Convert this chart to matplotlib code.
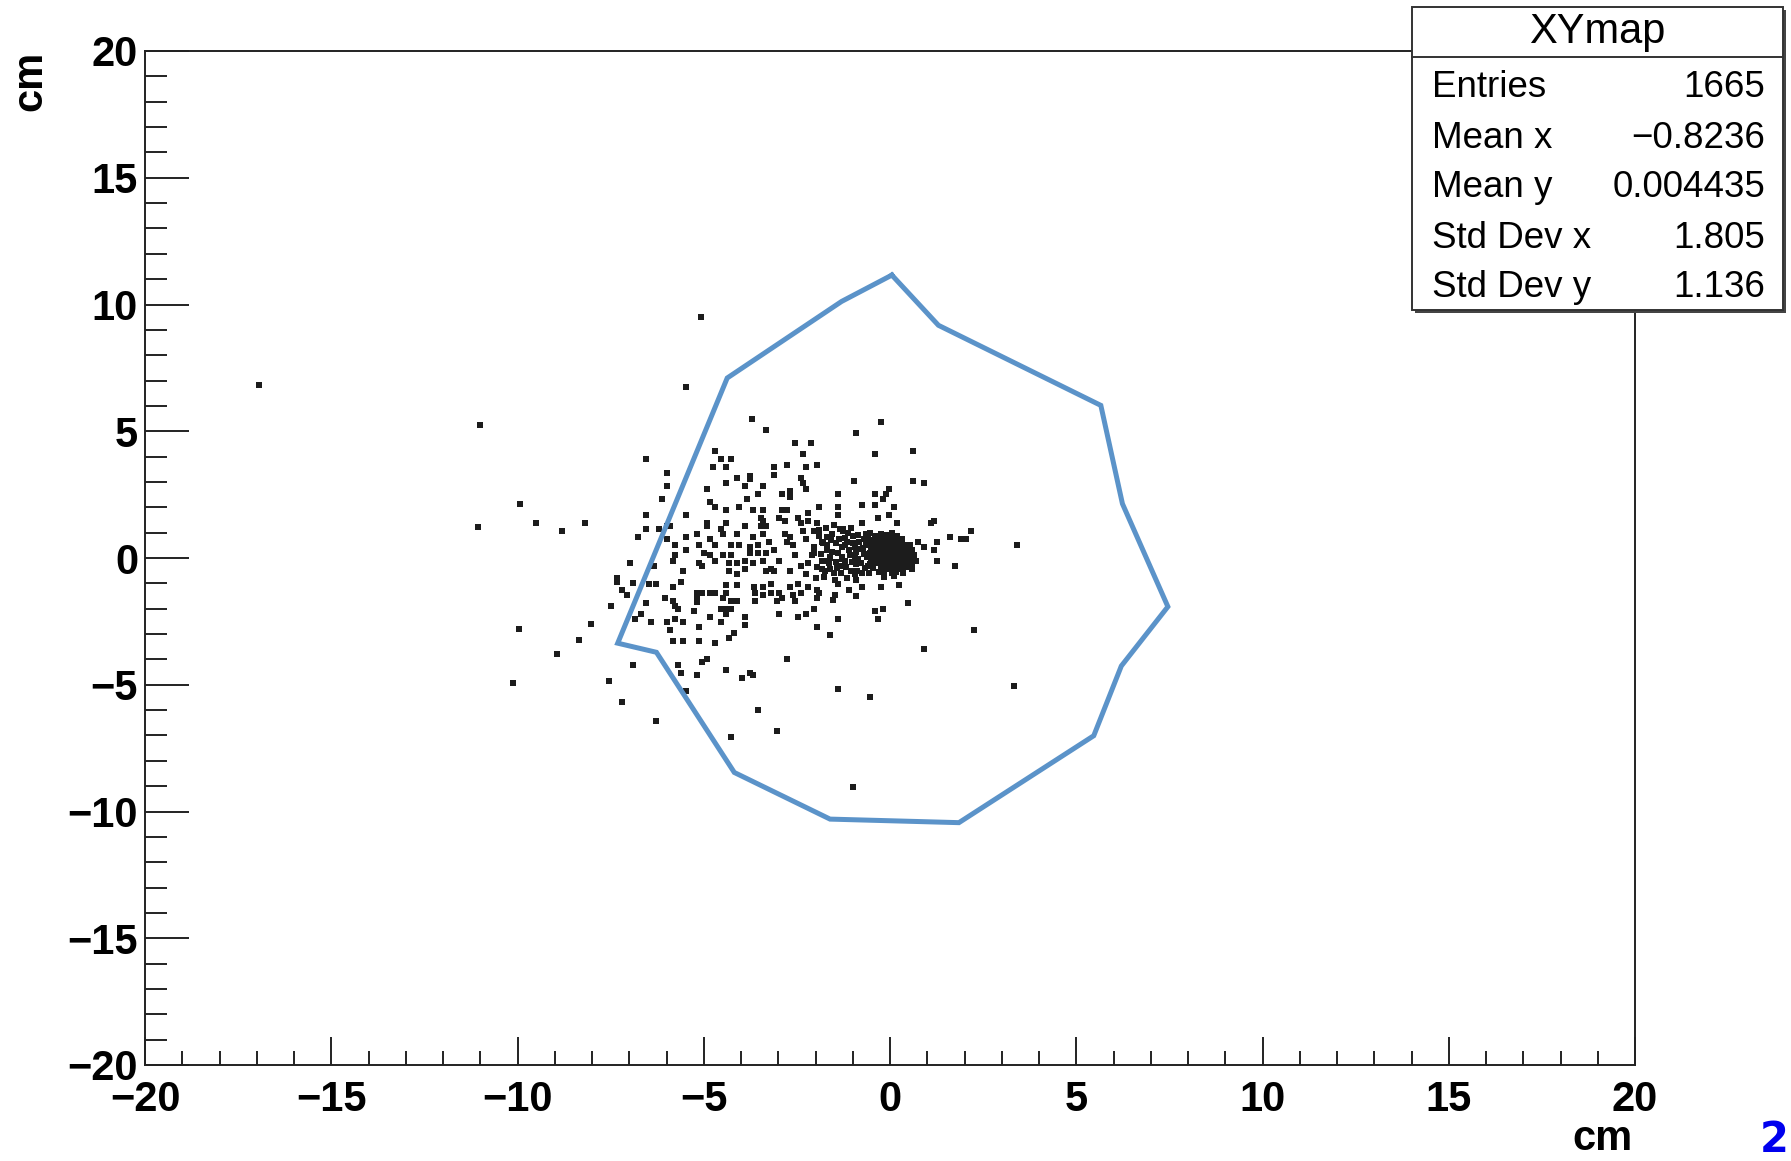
import matplotlib.pyplot as plt
from matplotlib.patches import Rectangle
from matplotlib.ticker import MultipleLocator

plt.rcParams['font.family'] = ['Liberation Sans', 'DejaVu Sans']

# hit positions in cm, grouped by region of the map
hits_far = [
    (-16.93, 6.83), (-11.02, 5.25), (-11.05, 1.24), (-9.92, 2.14), (-9.49, 1.38),
    (-8.81, 1.06), (-8.20, 1.38), (-9.95, -2.82), (-10.13, -4.94), (-8.93, -3.77),
    (-8.02, -2.59), (-8.35, -3.22), (-5.07, 9.49), (-1.00, -9.04),
]

hits_upper_left = [
    (-5.48, 6.73), (-3.70, 5.47), (-3.34, 5.05), (-2.54, 4.52), (-2.12, 4.52),
    (-4.69, 4.21), (-2.33, 4.10), (-6.55, 3.89), (-4.55, 3.89), (-4.26, 3.89),
    (-4.76, 3.58), (-4.40, 3.58), (-3.12, 3.58), (-2.76, 3.68), (-2.26, 3.58),
    (-1.97, 3.68), (-5.98, 3.37), (-3.76, 3.24), (-3.76, 3.10), (-4.12, 3.16),
    (-3.12, 3.26), (-2.40, 3.16), (-2.33, 2.95), (-2.26, 2.74), (-5.98, 2.84),
    (-4.40, 2.95), (-3.90, 2.84), (-3.40, 2.84), (-4.90, 2.74), (-3.55, 2.52),
    (-2.90, 2.52), (-2.69, 2.63), (-2.69, 2.42), (-6.12, 2.31), (-3.83, 2.31),
    (-4.83, 2.21), (-4.69, 2.00), (-4.40, 1.89), (-4.05, 2.00), (-3.69, 1.89),
    (-3.40, 1.89), (-2.90, 1.89), (-2.76, 1.89), (-2.19, 1.79), (-1.90, 2.00),
    (-6.55, 1.68), (-5.48, 1.68), (-3.47, 1.58), (-3.40, 1.47), (-2.97, 1.58),
    (-2.83, 1.47), (-2.47, 1.58), (-2.19, 1.47), (-6.55, 1.16), (-6.19, 1.16),
    (-5.98, 1.26), (-5.91, 1.26), (-4.90, 1.37), (-4.90, 1.26), (-4.40, 1.37),
    (-3.90, 1.26), (-3.47, 1.26), (-3.33, 1.26), (-2.40, 1.37), (-1.97, 1.37),
    (-6.77, 0.84), (-5.98, 0.74), (-5.48, 0.84), (-5.19, 0.95), (-4.12, 0.95),
    (-4.83, 0.74), (-4.69, 0.53), (-4.55, 1.16), (-4.47, 0.95), (-3.69, 0.84),
    (-3.40, 0.95), (-2.83, 0.95), (-2.69, 0.84), (-2.76, 0.63), (-2.61, 0.53),
    (-3.26, 0.63), (-5.76, 0.53), (-5.48, 0.32), (-5.12, 0.53), (-4.26, 0.53),
    (-4.05, 0.53), (-3.76, 0.42), (-3.55, 0.53), (-3.76, 0.21), (-2.33, 1.05),
    (-2.26, 0.74), (-2.04, 1.05), (-1.83, 0.63), (-1.68, 0.84), (-5.76, 0.11),
    (-5.83, -0.11), (-4.98, 0.21), (-4.83, 0.11), (-4.47, 0.11), (-4.26, 0.11),
    (-3.55, 0.21), (-3.33, 0.21), (-3.12, 0.32), (-2.54, 0.11), (-6.98, -0.21),
    (-6.34, -0.32), (-5.12, -0.21), (-4.69, -0.11), (-4.33, -0.21), (-4.12, -0.21),
    (-3.90, -0.11), (-3.69, -0.21), (-3.40, -0.11), (-2.97, -0.11), (-2.40, -0.32),
    (-2.19, -0.21), (-2.04, 0.21), (-1.83, -0.11), (-5.55, -0.53), (-5.05, -0.32),
    (-4.33, -0.53), (-4.12, -0.63), (-3.90, -0.42), (-3.33, -0.53), (-3.19, -0.42),
    (-3.12, -0.53), (-2.69, -0.53), (-7.34, -0.79), (-2.26, -0.63), (-1.83, -0.42),
    (-1.61, 0.05),
]

hits_lower_left = [
    (-7.34, -0.93), (-6.91, -0.97), (-6.48, -1.03), (-6.27, -1.03), (-5.83, -1.13),
    (-5.62, -0.93), (-7.20, -1.26), (-7.05, -1.46), (-4.40, -1.07), (-4.12, -1.07),
    (-3.65, -1.13), (-3.40, -1.13), (-3.19, -1.03), (-2.69, -1.13), (-2.47, -1.03),
    (-2.19, -1.13), (-1.97, -1.26), (-5.19, -1.39), (-5.05, -1.39), (-4.83, -1.39),
    (-4.69, -1.39), (-4.40, -1.39), (-3.62, -1.39), (-3.40, -1.46), (-3.19, -1.39),
    (-2.97, -1.39), (-2.90, -1.59), (-2.61, -1.46), (-2.40, -1.39), (-1.90, -1.39),
    (-7.48, -1.89), (-6.55, -1.79), (-6.05, -1.59), (-5.83, -1.68), (-5.76, -1.89),
    (-5.69, -2.00), (-5.19, -1.59), (-5.19, -1.72), (-4.47, -1.59), (-4.26, -1.68),
    (-4.12, -1.68), (-3.62, -1.68), (-3.04, -1.68), (-2.54, -1.68), (-1.97, -1.59),
    (-4.55, -2.00), (-4.40, -2.00), (-4.26, -2.00), (-2.04, -2.00), (-6.69, -2.21),
    (-5.26, -2.10), (-4.40, -2.21), (-3.90, -2.31), (-2.97, -2.21), (-2.47, -2.31),
    (-2.26, -2.21), (-6.84, -2.42), (-6.41, -2.52), (-5.98, -2.52), (-5.76, -2.42),
    (-5.55, -2.52), (-4.83, -2.31), (-4.55, -2.52), (-3.90, -2.63), (-5.12, -2.74),
    (-1.97, -2.74), (-5.91, -2.84), (-4.19, -2.95), (-4.33, -3.16), (-5.83, -3.26),
    (-5.55, -3.26), (-5.12, -3.26), (-4.69, -3.37), (-2.76, -4.00), (-6.91, -4.21),
    (-5.69, -4.21), (-5.05, -4.10), (-4.90, -4.00), (-5.62, -4.52), (-4.40, -4.42),
    (-5.19, -4.63), (-3.97, -4.73), (-3.76, -4.52), (-3.69, -4.63), (-7.55, -4.84),
    (-5.48, -5.26), (-7.20, -5.68), (-3.55, -5.98), (-6.27, -6.42), (-3.04, -6.84),
    (-4.26, -7.05),
]

hits_right = [
    (-0.25, 5.37), (-0.90, 4.94), (-0.39, 4.10), (0.61, 4.21), (-0.97, 3.05),
    (0.61, 3.05), (0.90, 2.95), (-1.40, 2.52), (-0.04, 2.74), (-0.11, 2.52),
    (-0.39, 2.52), (-0.18, 2.31), (-0.75, 2.10), (-0.39, 2.10), (0.11, 2.00),
    (-1.40, 2.00), (-1.40, 1.68), (-0.32, 1.58), (-0.04, 1.68), (0.18, 1.37),
    (1.18, 1.47), (1.11, 1.37), (-0.75, 1.37), (-1.25, 1.16), (1.61, 0.84),
    (1.90, 0.74), (2.04, 0.74), (2.18, 1.05), (3.40, 0.53), (0.75, 0.63),
    (0.90, 0.42), (1.25, 0.63), (1.18, 0.32), (1.25, -0.11), (1.75, -0.32),
    (0.32, 0.74), (-1.40, -1.03), (-1.47, -1.46), (-1.54, -1.66), (-1.11, -1.26),
    (-0.90, -1.50), (-0.75, -1.16), (-0.25, -1.16), (0.25, -1.05), (0.47, -1.79),
    (-0.39, -2.10), (-0.18, -2.00), (-1.40, -2.42), (-0.32, -2.42), (-1.61, -3.05),
    (2.26, -2.84), (0.90, -3.58), (-1.40, -5.15), (-0.54, -5.47), (3.33, -5.05),
]

hits_band = [
    (-1.55, 0.95), (-1.45, 0.60), (-1.40, 0.20), (-1.35, -0.30), (-1.50, -0.60),
    (-1.30, 0.45), (-1.20, 0.80), (-1.20, -0.10), (-1.10, 0.30), (-1.05, -0.50),
    (-1.00, 0.60), (-0.95, 0.05), (-0.90, -0.25), (-0.85, 0.90), (-0.80, 0.35),
    (-0.75, -0.60), (-0.70, 0.15), (-0.65, 0.60), (-0.60, -0.30), (-1.25, 1.05),
    (-1.60, 0.00), (-1.48, -0.85), (-1.15, -0.80), (-0.90, -0.85), (-0.55, 1.00),
    (-0.60, 0.80), (-1.05, 1.20), (-0.95, 0.45), (-1.30, -0.05), (-0.85, -0.05),
    (-1.70, 0.30), (-1.75, -0.50), (-1.80, 0.60), (-1.65, -0.20),
    (-2.05, 0.45), (-1.95, -0.35), (-1.90, 0.85), (-1.85, 0.15), (-1.78, -0.75),
    (-1.72, 1.20), (-1.68, 0.50), (-1.62, -0.45), (-1.55, 0.25), (-1.50, 1.30),
    (-1.45, -0.15), (-1.38, 0.75), (-1.32, -0.60), (-1.28, 0.05), (-1.22, 0.50),
    (-1.18, -0.35), (-1.12, 1.00), (-1.08, 0.10), (-1.02, -0.15), (-0.98, 0.85),
    (-0.92, 0.25), (-0.88, -0.50), (-0.82, 0.65), (-0.78, -0.20), (-0.72, 0.40),
    (-0.68, -0.40), (-0.64, 0.95), (-0.62, 0.05), (-0.58, 0.50), (-0.56, -0.60),
    (-2.00, -0.80), (-1.90, 1.10), (-1.58, 0.70), (-1.42, -0.40), (-1.15, 0.65),
    (-0.95, -0.65), (-0.70, 0.75), (-1.35, 1.15), (-1.75, -0.10), (-2.10, 0.10),
]

hits_core = [
    (-0.55, 0.20), (-0.50, -0.10), (-0.50, 0.45), (-0.45, 0.70), (-0.45, -0.40),
    (-0.40, 0.05), (-0.40, 0.30), (-0.35, -0.20), (-0.35, 0.55), (-0.30, 0.85),
    (-0.30, -0.55), (-0.25, 0.15), (-0.25, 0.40), (-0.20, -0.05), (-0.20, -0.35),
    (-0.20, 0.65), (-0.15, 0.25), (-0.15, -0.60), (-0.10, 0.00), (-0.10, 0.45),
    (-0.10, 0.90), (-0.05, -0.20), (-0.05, 0.70), (0.00, 0.15), (0.00, -0.45),
    (0.00, 0.35), (0.05, 0.55), (0.05, -0.05), (0.10, -0.30), (0.10, 0.20),
    (0.10, 0.75), (0.15, 0.40), (0.15, -0.55), (0.20, 0.00), (0.20, 0.60),
    (0.25, -0.20), (0.25, 0.30), (0.30, 0.50), (0.30, -0.45), (0.35, 0.10),
    (0.35, -0.10), (0.40, 0.35), (0.40, -0.30), (0.45, 0.15), (0.50, -0.05),
    (0.50, 0.45), (0.55, 0.25), (0.60, 0.00), (0.60, -0.25), (-0.30, 0.00),
    (-0.15, 0.10), (0.05, 0.10), (0.25, 0.10), (-0.05, 0.30), (0.15, 0.05),
    (0.30, 0.25), (-0.35, 0.25), (0.00, -0.15), (0.20, -0.40), (-0.10, -0.30),
    (0.45, -0.15), (-0.20, 0.10), (0.10, 0.00), (0.05, -0.30), (-0.25, -0.15),
    (0.35, 0.40), (0.15, 0.55),
    (-0.50, 0.00), (-0.45, 0.20), (-0.40, -0.20), (-0.35, 0.40), (-0.30, 0.15),
    (-0.30, 0.65), (-0.25, -0.35), (-0.20, 0.30), (-0.20, 0.80), (-0.15, -0.15),
    (-0.10, 0.20), (-0.10, 0.60), (-0.05, -0.45), (-0.05, 0.05), (0.00, 0.50),
    (0.00, 0.85), (0.05, 0.25), (0.05, -0.60), (0.10, 0.40), (0.10, -0.15),
    (0.15, 0.70), (0.15, 0.20), (0.20, -0.20), (0.20, 0.40), (0.25, 0.55),
    (0.25, -0.40), (0.30, 0.00), (0.30, 0.70), (0.35, -0.30), (0.35, 0.25),
    (0.40, 0.50), (0.40, 0.10), (0.45, -0.35), (0.45, 0.30), (0.50, 0.15),
    (0.55, -0.15), (0.55, 0.50), (0.60, 0.30), (0.65, 0.10), (-0.55, -0.25),
    (-0.50, 0.65), (-0.40, 0.85), (-0.25, 0.95), (0.05, 1.00), (0.20, 0.85),
    (-0.15, -0.75), (0.10, -0.70), (0.35, -0.60), (0.60, -0.45), (0.70, -0.10),
]

# hand-drawn cut contour (cm)
cut_x = [0.05, -1.30, -4.37, -7.31, -6.27, -4.18, -1.61, 1.85, 5.47, 6.21, 7.46, 6.24, 5.66, 1.30, 0.05]
cut_y = [11.16, 10.12, 7.10, -3.36, -3.72, -8.46, -10.30, -10.44, -7.01, -4.26, -1.92, 2.14, 6.02, 9.18, 11.16]

stat_names = ['Entries', 'Mean x', 'Mean y', 'Std Dev x', 'Std Dev y']
stat_values = ['1665', '\u22120.8236', '0.004435', '1.805', '1.136']

W, H = 1791, 1161
fig = plt.figure(figsize=(W / 100, H / 100), dpi=100)
ax = fig.add_axes([145 / W, 1 - 1065 / H, 1490 / W, 1014 / H])

all_hits = hits_far + hits_upper_left + hits_lower_left + hits_right + hits_band + hits_core
hx = [p[0] for p in all_hits]
hy = [p[1] for p in all_hits]
ax.plot(hx, hy, 's', ms=3.8, mew=0, color='#1c1c1c', zorder=2)

ax.plot(cut_x, cut_y, color='#5b93c9', lw=3.6, solid_joinstyle='miter', zorder=3)

ax.set_xlim(-20, 20)
ax.set_ylim(-20, 20)
for a in (ax.xaxis, ax.yaxis):
    a.set_major_locator(MultipleLocator(5))
    a.set_minor_locator(MultipleLocator(1))
ax.tick_params(which='both', direction='in', top=False, right=False,
               width=1.4, color='#222222', labelsize=30)
ax.tick_params(axis='x', which='major', length=20, pad=11)
ax.tick_params(axis='x', which='minor', length=10)
ax.tick_params(axis='y', which='major', length=32, pad=5)
ax.tick_params(axis='y', which='minor', length=16)
for lab in ax.get_xticklabels() + ax.get_yticklabels():
    lab.set_fontweight('bold')
for s in ax.spines.values():
    s.set_linewidth(1.4)
    s.set_color('#222222')

fig.text(1633 / W, 1 - 1139 / H, 'cm', ha='right', va='center', fontsize=30, fontweight='bold')
fig.text(30 / W, 1 - 51 / H, 'cm', ha='center', va='top', rotation=90, fontsize=30, fontweight='bold')
fig.text(1789 / W, 1 - 1140 / H, '2', ha='right', va='center', fontsize=30,
         fontweight='bold', color='#0000ee', family='DejaVu Sans')

# statistics box
bx0, bx1, by0, by1 = 1412, 1783, 7, 310
fig.add_artist(Rectangle((bx0 / W + 3 / W, 1 - (by1 + 3) / H), (bx1 - bx0) / W, (by1 - by0) / H,
                         transform=fig.transFigure, facecolor='#444444', edgecolor='none', zorder=5))
fig.add_artist(Rectangle((bx0 / W, 1 - by1 / H), (bx1 - bx0) / W, (by1 - by0) / H,
                         transform=fig.transFigure, facecolor='white', edgecolor='#333333',
                         lw=1.4, zorder=6))
fig.add_artist(plt.Line2D([bx0 / W, bx1 / W], [1 - 57 / H, 1 - 57 / H],
                          transform=fig.transFigure, color='#333333', lw=1.4, zorder=7))
fig.text((bx0 + bx1) / 2 / W, 1 - 43 / H, 'XYmap', ha='center', va='baseline',
         fontsize=30, zorder=8)
baselines = [97, 148, 197, 248, 297]
for name, val, yb in zip(stat_names, stat_values, baselines):
    fig.text(1432 / W, 1 - yb / H, name, ha='left', va='baseline', fontsize=26.5, zorder=8)
    fig.text(1765 / W, 1 - yb / H, val, ha='right', va='baseline', fontsize=26.5, zorder=8)

fig.savefig('out.png', dpi=100)
